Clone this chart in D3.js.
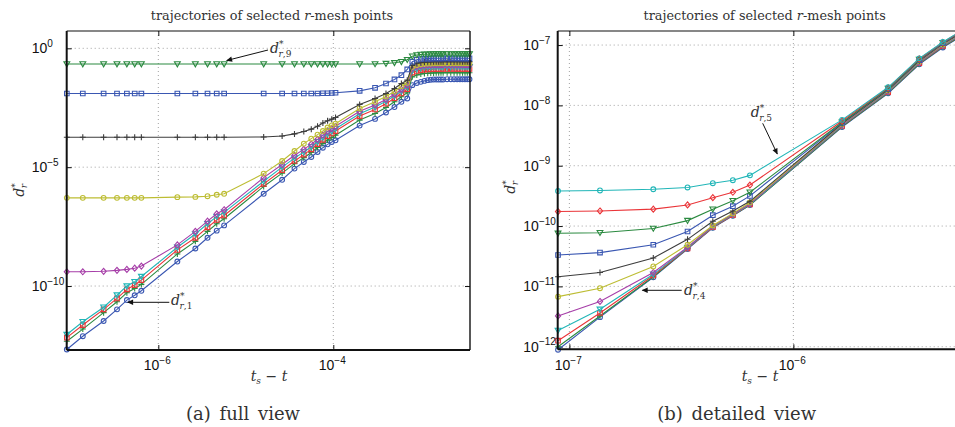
<!DOCTYPE html>
<html>
<head>
<meta charset="utf-8">
<script src="https://cdn.jsdelivr.net/npm/d3@7"></script>
<style>
body { margin: 0; background: #fff; }
svg { display: block; }
</style>
</head>
<body>
<svg id="fig" width="955" height="427"></svg>
<script>
// ---- data: values are log10(d*_r) ----
var fullTimes = [0.9e-7, 1.37e-7, 2.37e-7, 3.37e-7, 4.37e-7, 5.37e-7, 6.4e-7,
    1.65e-6, 2.65e-6, 3.65e-6, 4.65e-6, 5.65e-6,
    1.6e-5, 2.6e-5, 3.6e-5, 4.6e-5, 5.6e-5, 6.6e-5, 7.6e-5, 8.6e-5, 9.6e-5, 1.06e-4,
    2e-4, 3e-4, 4e-4, 5e-4, 6e-4, 7e-4,
    8e-4, 9e-4, 1.0e-3, 1.1e-3, 1.2e-3, 1.3e-3, 1.4e-3, 1.5e-3, 1.6e-3, 1.7e-3,
    1.8e-3, 2.0e-3, 2.2e-3, 2.4e-3, 2.6e-3, 2.8e-3, 3.0e-3, 3.2e-3, 3.4e-3, 3.6e-3];

var full1 = [-12.67, -12.11, -11.47, -10.98, -10.59, -10.39, -10.2,
    -8.97, -8.42, -7.97, -7.67, -7.45,
    -6.12, -5.53, -5.06, -4.78, -4.57, -4.36, -4.18, -4.04, -3.94, -3.87,
    -3.25, -2.97, -2.7, -2.47, -2.25, -2.11,
    -1.55, -1.46, -1.41, -1.37, -1.34, -1.32, -1.31, -1.31, -1.31, -1.31,
    -1.31, -1.3, -1.3, -1.3, -1.3, -1.3, -1.3, -1.3, -1.3, -1.3];
var full2 = [-12.32, -11.81, -11.12, -10.66, -10.28, -10.1, -9.93,
    -8.65, -8.12, -7.7, -7.38, -7.17,
    -5.81, -5.25, -4.85, -4.6, -4.38, -4.17, -4.0, -3.86, -3.75, -3.66,
    -3.02, -2.74, -2.49, -2.25, -2.04, -1.87,
    -1.2, -1.12, -1.08, -1.06, -1.05, -1.04, -1.04, -1.03, -1.03, -1.03,
    -1.03, -1.03, -1.03, -1.03, -1.03, -1.03, -1.03, -1.03, -1.03, -1.03];
var full3 = [-12.17, -11.64, -10.98, -10.52, -10.14, -9.96, -9.75,
    -8.48, -7.97, -7.53, -7.22, -7.03,
    -5.7, -5.13, -4.74, -4.47, -4.25, -4.03, -3.85, -3.7, -3.58, -3.48,
    -2.85, -2.57, -2.33, -2.1, -1.9, -1.72,
    -1.02, -0.95, -0.92, -0.9, -0.89, -0.88, -0.88, -0.87, -0.87, -0.87,
    -0.87, -0.87, -0.87, -0.87, -0.87, -0.87, -0.87, -0.87, -0.87, -0.87];
var full4 = [-12.04, -11.5, -10.89, -10.38, -10.0, -9.82, -9.6,
    -8.37, -7.81, -7.38, -7.08, -6.9,
    -5.59, -5.0, -4.62, -4.36, -4.14, -3.93, -3.75, -3.6, -3.48, -3.38,
    -2.75, -2.47, -2.23, -2.0, -1.8, -1.62,
    -0.93, -0.86, -0.82, -0.8, -0.79, -0.79, -0.78, -0.78, -0.78, -0.78,
    -0.78, -0.78, -0.78, -0.78, -0.78, -0.78, -0.78, -0.78, -0.78, -0.78];
var full5 = [-9.4, -9.4, -9.38, -9.34, -9.3, -9.25, -9.16,
    -8.27, -7.7, -7.27, -6.96, -6.79,
    -5.44, -4.89, -4.5, -4.25, -4.03, -3.83, -3.65, -3.5, -3.38, -3.28,
    -2.65, -2.38, -2.15, -1.93, -1.73, -1.55,
    -0.85, -0.77, -0.74, -0.72, -0.71, -0.71, -0.7, -0.7, -0.7, -0.7,
    -0.7, -0.7, -0.7, -0.7, -0.7, -0.7, -0.7, -0.7, -0.7, -0.7];
var full6 = [-6.29, -6.29, -6.29, -6.29, -6.29, -6.29, -6.29,
    -6.26, -6.25, -6.22, -6.16, -6.12,
    -5.27, -4.74, -4.32, -4.01, -3.8, -3.63, -3.48, -3.33, -3.24, -3.17,
    -2.53, -2.25, -2.03, -1.82, -1.6, -1.45,
    -0.78, -0.7, -0.67, -0.65, -0.64, -0.64, -0.63, -0.63, -0.63, -0.63,
    -0.63, -0.63, -0.63, -0.63, -0.63, -0.63, -0.63, -0.63, -0.63, -0.63];
var full7 = [-3.74, -3.74, -3.74, -3.74, -3.74, -3.74, -3.74,
    -3.74, -3.74, -3.74, -3.74, -3.74,
    -3.73, -3.69, -3.6, -3.5, -3.4, -3.28, -3.14, -3.05, -2.98, -2.91,
    -2.36, -2.11, -1.9, -1.69, -1.48, -1.34,
    -0.72, -0.63, -0.6, -0.58, -0.57, -0.57, -0.56, -0.56, -0.56, -0.56,
    -0.56, -0.56, -0.56, -0.56, -0.56, -0.56, -0.56, -0.56, -0.56, -0.56];
var full8 = [-1.9, -1.9, -1.9, -1.9, -1.9, -1.9, -1.9,
    -1.9, -1.9, -1.9, -1.9, -1.9,
    -1.9, -1.9, -1.9, -1.9, -1.9, -1.9, -1.89, -1.89, -1.88, -1.87,
    -1.79, -1.66, -1.48, -1.31, -1.13, -0.89,
    -0.56, -0.48, -0.45, -0.44, -0.43, -0.43, -0.42, -0.42, -0.42, -0.42,
    -0.42, -0.42, -0.42, -0.42, -0.42, -0.42, -0.42, -0.42, -0.42, -0.42];
var full9 = [-0.66, -0.66, -0.66, -0.66, -0.66, -0.66, -0.66,
    -0.66, -0.66, -0.66, -0.66, -0.66,
    -0.66, -0.66, -0.66, -0.66, -0.66, -0.66, -0.66, -0.66, -0.66, -0.66,
    -0.66, -0.655, -0.64, -0.61, -0.565, -0.48,
    -0.33, -0.28, -0.26, -0.25, -0.25, -0.24, -0.24, -0.24, -0.24, -0.24,
    -0.24, -0.24, -0.24, -0.24, -0.24, -0.24, -0.24, -0.24, -0.24, -0.24];

var detailTimes = [0.89e-7, 1.37e-7, 2.37e-7, 3.37e-7, 4.37e-7, 5.37e-7, 6.4e-7,
    1.65e-6, 2.65e-6, 3.65e-6, 4.65e-6, 5.65e-6];

var detail1 = [-12.05, -11.51, -10.85, -10.38, -10.03, -9.83, -9.65, -8.36, -7.8, -7.32, -7.04, -6.85];
var detail2 = [-12.0, -11.49, -10.84, -10.37, -10.02, -9.82, -9.65, -8.35, -7.79, -7.31, -7.03, -6.84];
var detail3 = [-11.9, -11.44, -10.82, -10.37, -10.02, -9.82, -9.64, -8.34, -7.78, -7.3, -7.02, -6.83];
var detail4 = [-11.73, -11.38, -10.8, -10.36, -10.01, -9.81, -9.64, -8.33, -7.77, -7.29, -7.01, -6.82];
var detail5 = [-11.49, -11.25, -10.77, -10.35, -10.0, -9.8, -9.63, -8.32, -7.76, -7.28, -7.0, -6.81];
var detail6 = [-11.17, -11.03, -10.67, -10.31, -9.99, -9.79, -9.61, -8.31, -7.75, -7.27, -6.99, -6.8];
var detail7 = [-10.84, -10.77, -10.53, -10.22, -9.92, -9.75, -9.59, -8.3, -7.74, -7.26, -6.98, -6.79];
var detail8 = [-10.48, -10.44, -10.31, -10.09, -9.82, -9.67, -9.5, -8.29, -7.73, -7.25, -6.97, -6.78];
var detail9 = [-10.12, -10.11, -10.04, -9.91, -9.72, -9.58, -9.44, -8.28, -7.72, -7.24, -6.96, -6.77];
var detail10 = [-9.76, -9.75, -9.72, -9.65, -9.53, -9.44, -9.32, -8.26, -7.71, -7.23, -6.955, -6.765];
var detail11 = [-9.42, -9.41, -9.39, -9.36, -9.29, -9.24, -9.16, -8.24, -7.7, -7.22, -6.95, -6.76];

var fullXTicks = [1e-6, 1e-4];
var fullYTicks = [1e-10, 1e-5, 1];
var detailXTicks = [1e-7, 1e-6];
var detailYTicks = [1e-12, 1e-11, 1e-10, 1e-9, 1e-8, 1e-7];

// matlab style colour / marker cycles
var lineColors = ["#3a57b2", "#2b8a40", "#ea3539", "#22b6b8", "#a63ea8", "#bdbd33", "#3d3d3d"];
var lineMarkers = ["o", "+", "s", "v", "d"];

var serif = "'DejaVu Serif', 'Liberation Serif', serif";
var sans = "'Liberation Sans', Arial, sans-serif";

var svg = d3.select("#fig");
var defs = svg.append("defs");
defs.append("marker")
    .attr("id", "arrowHead")
    .attr("viewBox", "0 0 10 10")
    .attr("refX", 9)
    .attr("refY", 5)
    .attr("markerWidth", 7)
    .attr("markerHeight", 6)
    .attr("orient", "auto")
    .append("path")
    .attr("d", "M0,0.5 L10,5 L0,9.5 z")
    .attr("fill", "#111");

function markerPath(kind) {
    if (kind == "o") return "M-2.4,0a2.4,2.4 0 1,0 4.8,0a2.4,2.4 0 1,0 -4.8,0";
    if (kind == "+") return "M-3,0H3M0,-3V3";
    if (kind == "s") return "M-2.3,-2.3H2.3V2.3H-2.3Z";
    if (kind == "v") return "M-2.9,-2.2H2.9L0,2.8Z";
    return "M0,-3L2.6,0L0,3L-2.6,0Z";
}

function drawPanel(p) {
    var g = svg.append("g");
    var x = d3.scaleLog().domain(p.xDomain).range([p.left, p.right]);
    var y = d3.scaleLog().domain(p.yDomain).range([p.bottom, p.top]);
    var vis = Math.min(p.right, 955);

    // dotted grid
    p.xTicks.forEach(function (v) {
        g.append("line")
            .attr("x1", x(v)).attr("x2", x(v))
            .attr("y1", p.top).attr("y2", p.bottom)
            .attr("stroke", "#8a8a8a").attr("stroke-width", 0.8)
            .attr("stroke-dasharray", "1,3");
    });
    p.yTicks.forEach(function (v) {
        g.append("line")
            .attr("x1", p.left).attr("x2", vis)
            .attr("y1", y(v)).attr("y2", y(v))
            .attr("stroke", "#8a8a8a").attr("stroke-width", 0.8)
            .attr("stroke-dasharray", "1,3");
    });

    // inward ticks
    var tickStyle = function (a) {
        a.select(".domain").remove();
        a.selectAll(".tick line").attr("stroke", "#111");
    };
    g.append("g").attr("transform", "translate(0," + p.bottom + ")")
        .call(d3.axisBottom(x).tickValues(p.xTicks).tickSizeInner(-5).tickSizeOuter(0).tickFormat(""))
        .call(tickStyle);
    g.append("g").attr("transform", "translate(0," + p.top + ")")
        .call(d3.axisTop(x).tickValues(p.xTicks).tickSizeInner(-5).tickSizeOuter(0).tickFormat(""))
        .call(tickStyle);
    g.append("g").attr("transform", "translate(" + p.left + ",0)")
        .call(d3.axisLeft(y).tickValues(p.yTicks).tickSizeInner(-5).tickSizeOuter(0).tickFormat(""))
        .call(tickStyle);
    g.append("g").attr("transform", "translate(" + p.right + ",0)")
        .call(d3.axisRight(y).tickValues(p.yTicks).tickSizeInner(-5).tickSizeOuter(0).tickFormat(""))
        .call(tickStyle);

    // curves
    var clipId = p.id + "Clip";
    defs.append("clipPath").attr("id", clipId).append("rect")
        .attr("x", p.left - 4).attr("y", p.top - 4)
        .attr("width", p.right - p.left + 8).attr("height", p.bottom - p.top + 8);
    var plot = g.append("g").attr("clip-path", "url(#" + clipId + ")");
    var line = d3.line()
        .x(function (d) { return x(d[0]); })
        .y(function (d) { return y(d[1]); });
    p.series.forEach(function (s, i) {
        var color = lineColors[i % lineColors.length];
        var kind = lineMarkers[i % lineMarkers.length];
        var pts = p.times.map(function (t, k) { return [t, Math.pow(10, s[k])]; });
        plot.append("path")
            .datum(pts)
            .attr("d", line)
            .attr("fill", "none")
            .attr("stroke", color)
            .attr("stroke-width", 1.1);
        plot.selectAll(null)
            .data(pts)
            .enter().append("path")
            .attr("transform", function (d) { return "translate(" + x(d[0]) + "," + y(d[1]) + ")"; })
            .attr("d", markerPath(kind))
            .attr("fill", "none")
            .attr("stroke", color)
            .attr("stroke-width", 1.1);
    });

    // box
    g.append("line").attr("x1", p.left).attr("x2", vis).attr("y1", p.top).attr("y2", p.top)
        .attr("stroke", "#111").attr("stroke-width", 1.2);
    g.append("line").attr("x1", p.left).attr("x2", vis).attr("y1", p.bottom).attr("y2", p.bottom)
        .attr("stroke", "#111").attr("stroke-width", 2);
    g.append("line").attr("x1", p.left).attr("x2", p.left).attr("y1", p.top).attr("y2", p.bottom)
        .attr("stroke", "#111").attr("stroke-width", 2);
    if (p.right < 955) {
        g.append("line").attr("x1", p.right).attr("x2", p.right).attr("y1", p.top).attr("y2", p.bottom)
            .attr("stroke", "#111").attr("stroke-width", 1.4);
    }

    // tick labels: 10 with exponent
    p.yTicks.forEach(function (v) {
        var e = Math.round(Math.log10(v));
        var t = g.append("text")
            .attr("x", p.yLabelX).attr("y", y(v) + 5)
            .attr("font-family", sans).attr("font-size", 14).attr("fill", "#111")
            .text("10");
        t.append("tspan").attr("font-size", 10).attr("dy", -6.5)
            .text(e < 0 ? "\u2212" + (-e) : "" + e);
    });
    p.xTicks.forEach(function (v) {
        var e = Math.round(Math.log10(v));
        g.append("text")
            .attr("x", x(v) + 1).attr("y", 370)
            .attr("text-anchor", "end")
            .attr("font-family", sans).attr("font-size", 14).attr("fill", "#111")
            .text("10");
        g.append("text")
            .attr("x", x(v) + 1).attr("y", 363.5)
            .attr("font-family", sans).attr("font-size", 10).attr("fill", "#111")
            .text(e < 0 ? "\u2212" + (-e) : "" + e);
    });

    // title
    var title = g.append("text")
        .attr("x", p.titleX).attr("y", 19.5)
        .attr("text-anchor", "middle")
        .attr("font-family", serif).attr("font-size", 12.8).attr("fill", "#333");
    title.append("tspan").text("trajectories of selected ");
    title.append("tspan").attr("font-style", "italic").text("r");
    title.append("tspan").text("-mesh points");

    // y label d*_r
    var yl = g.append("text")
        .attr("transform", "translate(" + p.yTitleX + "," + p.yTitleY + ") rotate(-90)")
        .attr("text-anchor", "middle")
        .attr("font-family", serif).attr("font-size", 14).attr("fill", "#333");
    yl.append("tspan").attr("font-style", "italic").text("d");
    yl.append("tspan").attr("font-size", 9).attr("dy", -6).text("*");
    yl.append("tspan").attr("font-size", 9).attr("font-style", "italic").attr("dx", -5).attr("dy", 9).text("r");

    // x label t_s - t
    var xl = g.append("text")
        .attr("x", p.xTitleX).attr("y", 381)
        .attr("text-anchor", "middle")
        .attr("font-family", serif).attr("font-size", 14).attr("fill", "#333");
    xl.append("tspan").attr("font-style", "italic").text("t");
    xl.append("tspan").attr("font-size", 9).attr("font-style", "italic").attr("dy", 3).text("s");
    xl.append("tspan").attr("dy", -3).text(" \u2212 ");
    xl.append("tspan").attr("font-style", "italic").text("t");

    // caption
    g.append("text")
        .attr("x", p.captionX).attr("y", 420)
        .attr("text-anchor", "middle")
        .attr("font-family", serif).attr("font-size", 18).attr("fill", "#333")
        .attr("word-spacing", 3)
        .text(p.caption);

    // annotations
    p.notes.forEach(function (n) {
        g.append("line")
            .attr("x1", n.from[0]).attr("y1", n.from[1])
            .attr("x2", n.to[0]).attr("y2", n.to[1])
            .attr("stroke", "#111").attr("stroke-width", 1)
            .attr("marker-end", "url(#arrowHead)");
        var t = g.append("text")
            .attr("x", n.at[0]).attr("y", n.at[1])
            .attr("font-family", serif).attr("font-size", 14).attr("fill", "#333");
        t.append("tspan").attr("font-style", "italic").text("d");
        t.append("tspan").attr("font-size", 9).attr("dy", -6).text("*");
        t.append("tspan").attr("font-size", 9).attr("font-style", "italic").attr("dx", -5).attr("dy", 9.5).text("r");
        t.append("tspan").attr("font-size", 9).text("," + n.index);
    });
}

drawPanel({
    id: "full",
    left: 66.7, right: 470, top: 31, bottom: 350,
    xDomain: [8.97e-8, 3.65e-3],
    yDomain: [2.04e-13, 5.35],
    xTicks: fullXTicks, yTicks: fullYTicks,
    times: fullTimes,
    series: [full1, full2, full3, full4, full5, full6, full7, full8, full9],
    yLabelX: 31.7, titleX: 272, xTitleX: 269, yTitleX: 24, yTitleY: 190,
    captionX: 243, caption: "(a) full view",
    notes: [
        { index: 9, at: [270, 53], from: [268, 50], to: [226.7, 60.5] },
        { index: 1, at: [171, 305], from: [169.3, 302.3], to: [127.7, 302.3] }
    ]
});

drawPanel({
    id: "detail",
    left: 557.7, right: 966, top: 31, bottom: 349.3,
    xDomain: [8.87e-8, 5.9e-6],
    yDomain: [9.06e-13, 1.71e-7],
    xTicks: detailXTicks, yTicks: detailYTicks,
    times: detailTimes,
    series: [detail1, detail2, detail3, detail4, detail5, detail6, detail7, detail8, detail9, detail10, detail11],
    yLabelX: 523.3, titleX: 764.7, xTitleX: 760, yTitleX: 515, yTitleY: 187,
    captionX: 736.7, caption: "(b) detailed view",
    notes: [
        { index: 5, at: [750.7, 117], from: [762.7, 123.3], to: [777.3, 154] },
        { index: 4, at: [684, 295], from: [681.7, 290.3], to: [642.3, 290.3] }
    ]
});
</script>
</body>
</html>
